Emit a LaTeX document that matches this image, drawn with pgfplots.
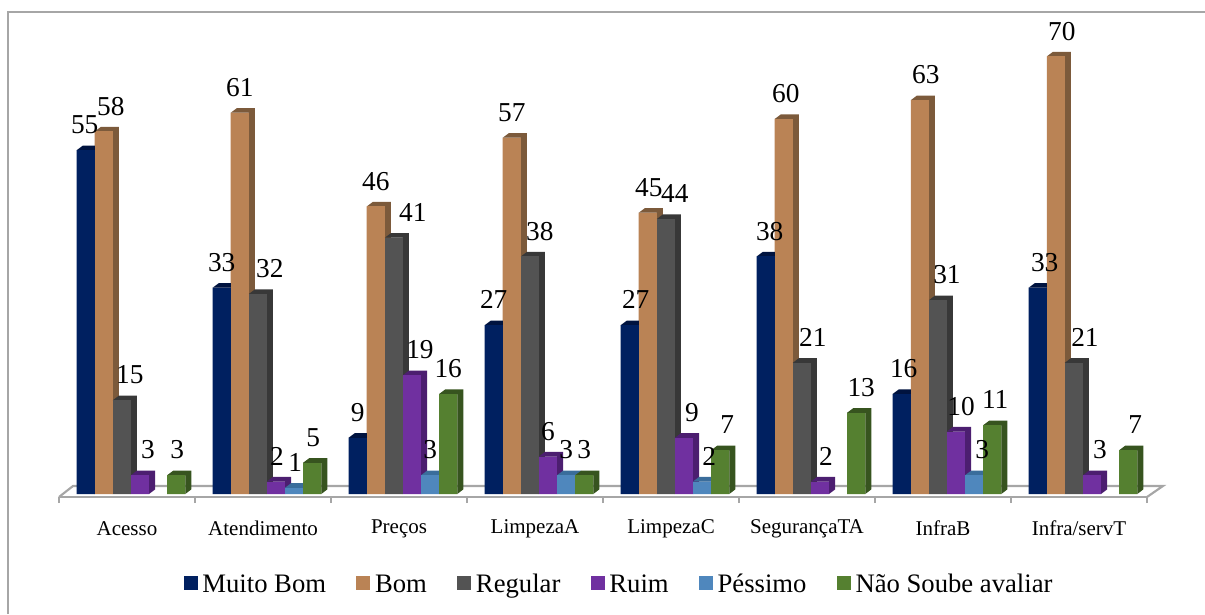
\documentclass[border=0pt]{standalone}
\usepackage{fontspec}
\setmainfont{Liberation Serif}
\usepackage{pgfplots}
\usepackage{pgfplotstable}
\pgfplotsset{compat=1.18}

% 1 px of the reference = 0.75pt here
\definecolor{cnavy}{HTML}{002060}\definecolor{cnavyd}{HTML}{00133F}
\definecolor{cbrown}{HTML}{BA8355}\definecolor{cbrownd}{HTML}{7C5A3B}
\definecolor{cgray}{HTML}{535353}\definecolor{cgrayd}{HTML}{383838}
\definecolor{cpurp}{HTML}{7030A0}\definecolor{cpurpd}{HTML}{4C1E70}
\definecolor{cblue}{HTML}{4F87BD}\definecolor{cblued}{HTML}{3A6D9B}
\definecolor{cgreen}{HTML}{558030}\definecolor{cgreend}{HTML}{37541F}
\definecolor{cfloor}{HTML}{A6A6A6}

\pgfplotstableread{
x y dx
0 55 -1
1 33 0
2 9 0
3 27 0
4 27 6
5 38 4
6 16 2
7 33 7
}\tmuito
\pgfplotstableread{
x y dx
0 58 7
1 61 0
2 46 0
3 57 0
4 45 1
5 60 2
6 63 6
7 70 6
}\tbom
\pgfplotstableread{
x y dx
0 15 8
1 32 12
2 41 19
3 38 10
4 44 9
5 21 11
6 31 9
7 21 11
}\tregular
\pgfplotstableread{
x y dx
0 3 8
1 2 1
2 19 8
3 6 0
4 9 8
5 2 6
6 10 5
7 3 8
}\truim
\pgfplotstableread{
x y dx
1 1 1
2 3 0
3 3 0
4 2 7
6 3 8
}\tpessimo
\pgfplotstableread{
x y dx
0 3 1
1 5 1
2 16 0
3 3 0
4 7 7
5 13 5
6 11 3
7 7 7
}\tnao

% marks go on top of the bars, so the mark draws side, top and front of one bar
% origin at the middle of the front top edge
\pgfdeclareplotmark{bar3d}{%
  \pgfmathsetmacro\hh{\rawy*4.6875}%
  \pgfsetfillcolor{\darkcol}%
  \pgfpathmoveto{\pgfqpoint{-6.8pt}{0pt}}%
  \pgfpathlineto{\pgfqpoint{-2.3pt}{3.4pt}}%
  \pgfpathlineto{\pgfqpoint{11.3pt}{3.4pt}}%
  \pgfpathlineto{\pgfpoint{11.3pt}{3.4pt-\hh pt}}%
  \pgfpathlineto{\pgfpoint{6.8pt}{-\hh pt}}%
  \pgfpathlineto{\pgfqpoint{6.8pt}{0pt}}%
  \pgfpathclose
  \pgfusepathqfill
  \pgfsetfillcolor{\frontcol}%
  \pgfpathrectangle{\pgfpoint{-6.8pt}{-\hh pt}}{\pgfpoint{13.6pt}{\hh pt}}%
  \pgfusepathqfill
}

\newcommand\sbar[5]{%
  \addplot[ybar, bar width=13.6pt, bar shift=0pt, fill=#3, draw=none,
    legend image code/.code={\fill[#3] (0pt,-3pt) rectangle (10.5pt,7.5pt);}]
    table[x expr=\thisrow{x}+#2, y=y] {#1};
  \addlegendentry{#5}
  \addplot[forget plot, only marks, scatter, mark=bar3d,
    mark options={draw=none},
    scatter/@pre marker code/.code={\def\frontcol{#3}\def\darkcol{#4}},
    scatter/@post marker code/.code={},
    visualization depends on={rawy \as \rawy}]
    table[x expr=\thisrow{x}+#2, y=y] {#1};
}
\newcommand\slab[2]{%
  \addplot[forget plot, draw=none, mark=none,
    visualization depends on={\thisrow{dx} \as \dx},
    nodes near coords,
    every node near coord/.append style={anchor=center, inner sep=0pt,
      xshift=\dx*0.75pt, yshift=19pt, font=\fontsize{20.5}{22}\selectfont, text=black}]
    table[x expr=\thisrow{x}+#2, y=y] {#1};
}

\begin{document}
\begin{tikzpicture}
\path[use as bounding box] (0,0) rectangle (903.75pt,460.5pt);
\draw[color=cfloor, line width=1.2pt] (6pt,0pt) -- (6pt,451.5pt) -- (903.75pt,451.5pt);
\begin{axis}[
  at={(44.25pt,87.75pt)}, anchor=south west,
  x=102pt, y=4.6875pt,
  xmin=-0.529, xmax=7.471, ymin=-0.48, ymax=78,
  clip=false,
  axis y line=none, axis x line*=bottom,
  x axis line style={color=cfloor, line width=1.6pt, -},
  xtick={-0.029,0.971,1.971,2.971,3.971,4.971,5.971,6.971},
  xticklabels={Acesso,Atendimento,Preços,LimpezaA,LimpezaC,SegurançaTA,InfraB,Infra/servT},
  major tick length=0pt,
  minor xtick={-0.529,0.471,1.471,2.471,3.471,4.471,5.471,6.471,7.471},
  minor tick length=4.5pt,
  tick align=outside,
  minor tick style={color=cfloor, line width=0.8pt},
  xticklabel style={anchor=center, yshift=-23.7pt, font=\fontsize{15.75}{18}\selectfont},
  /pgf/number format/assume math mode=true,
  legend columns=6,
  legend cell align=left,
  legend style={draw=none, fill=none, at={(axis cs:3.592,-14.72)}, anchor=center,
    font=\fontsize{20}{22}\selectfont,
    nodes={text height=13.5pt, text depth=4.5pt},
    /tikz/every odd column/.append style={column sep=1.5pt},
    /tikz/every even column/.append style={column sep=20.75pt}},
]
\draw[color=cfloor, line width=1.6pt]
  (axis cs:-0.529,-0.48) -- (axis cs:-0.426,1.28) -- (axis cs:7.588,1.28) -- (axis cs:7.471,-0.48);
\sbar{\tmuito}{-0.3327}{cnavy}{cnavyd}{Muito Bom}
\sbar{\tbom}{-0.1996}{cbrown}{cbrownd}{Bom}
\sbar{\tregular}{-0.0665}{cgray}{cgrayd}{Regular}
\sbar{\truim}{0.0665}{cpurp}{cpurpd}{Ruim}
\sbar{\tpessimo}{0.1996}{cblue}{cblued}{Péssimo}
\sbar{\tnao}{0.3327}{cgreen}{cgreend}{Não Soube avaliar}
\slab{\tmuito}{-0.3327}
\slab{\tbom}{-0.1996}
\slab{\tregular}{-0.0665}
\slab{\truim}{0.0665}
\slab{\tpessimo}{0.1996}
\slab{\tnao}{0.3327}
\end{axis}
\end{tikzpicture}
\end{document}
